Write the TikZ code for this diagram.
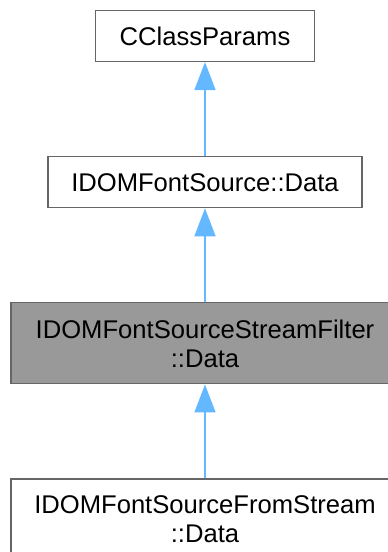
\documentclass[tikz,border=0pt]{standalone}
\usepackage{fontspec}
\setmainfont{Liberation Sans}
\usepackage{xcolor}
\usetikzlibrary{arrows.meta,positioning}

\definecolor{edgeblue}{HTML}{63B8FF}

\begin{document}
\begin{tikzpicture}[
    x=1pt, y=1pt,
    node distance=94pt,
    cls/.style={
        rectangle, draw=black!60, line width=1.2pt, fill=white,
        inner sep=0pt, align=center,
        minimum width=219pt, minimum height=51pt,
        font=\fontsize{25.6}{29}\selectfont
    },
    wide/.style={cls, minimum width=388pt, minimum height=81pt},
    current/.style={wide, fill=black!40},
    inherit/.style={draw=edgeblue, line width=1.6pt,
        -{Triangle[width=21pt,length=28pt]}}
]
    \useasboundingbox (0,0) rectangle (388,552);

    % Class chain, base at the top
    \node[cls] (params) at (205,516) {CClassParams};
    \node[cls, minimum width=314pt, below=of params] (srcdata) {IDOMFontSource::Data};
    \node[current, below=of srcdata] (filterdata) {IDOMFontSourceStreamFilter\\::Data};
    \node[wide, below=of filterdata] (streamdata) {IDOMFontSourceFromStream\\::Data};

    % Inheritance edges
    \draw[inherit] (srcdata) -- (params);
    \draw[inherit] (filterdata) -- (srcdata);
    \draw[inherit] (streamdata) -- (filterdata);

\end{tikzpicture}
\end{document}
